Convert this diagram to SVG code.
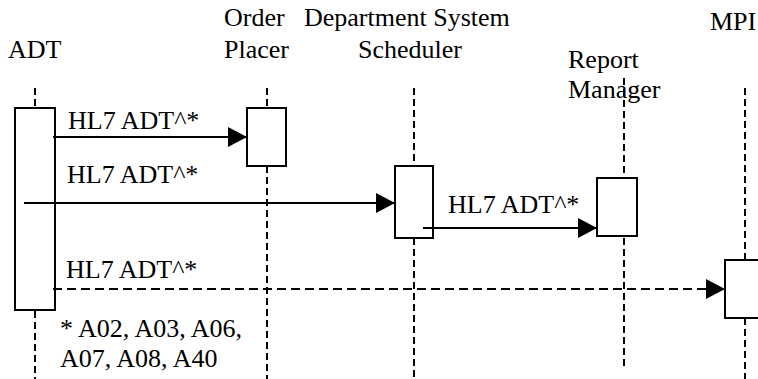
<svg xmlns="http://www.w3.org/2000/svg" width="758" height="379" viewBox="0 0 758 379" font-family="'Liberation Serif', Tinos, 'Times New Roman', serif">
<defs>
<marker id="ah" viewBox="0 0 19 20" refX="19" refY="10" markerWidth="19" markerHeight="20" markerUnits="userSpaceOnUse" orient="auto">
<path d="M0,0 L19,10 L0,20 z" fill="#000"/>
</marker>
</defs>
<rect width="758" height="379" fill="#fff"/>
<g stroke="#000" stroke-width="2">
<g id="adt">
<line x1="35" y1="88" x2="35" y2="108" stroke-dasharray="7 4"/>
<line x1="35" y1="311" x2="35" y2="379" stroke-dasharray="7 4"/>
<rect x="15" y="108" width="40" height="202" fill="#fff"/>
<text x="8" y="58" font-family="'Liberation Serif', Tinos, 'Times New Roman', serif" font-size="26" stroke="none" fill="#000">ADT</text>
</g>
<g id="order-placer">
<line x1="267" y1="88" x2="267" y2="108" stroke-dasharray="7 4"/>
<line x1="267" y1="166" x2="267" y2="379" stroke-dasharray="7 4"/>
<rect x="247" y="108" width="39" height="58" fill="#fff"/>
<text x="224" y="26" font-family="'Liberation Serif', Tinos, 'Times New Roman', serif" font-size="26" stroke="none" fill="#000">Order</text>
<text x="224" y="58" font-family="'Liberation Serif', Tinos, 'Times New Roman', serif" font-size="26" stroke="none" fill="#000">Placer</text>
</g>
<g id="dss">
<line x1="414" y1="88" x2="414" y2="166" stroke-dasharray="7 4"/>
<line x1="414" y1="238" x2="414" y2="379" stroke-dasharray="7 4"/>
<rect x="395" y="166" width="38" height="72" fill="#fff"/>
<text x="304" y="26" font-family="'Liberation Serif', Tinos, 'Times New Roman', serif" font-size="26" stroke="none" fill="#000">Department System</text>
<text x="358" y="58" font-family="'Liberation Serif', Tinos, 'Times New Roman', serif" font-size="26" stroke="none" fill="#000">Scheduler</text>
</g>
<g id="report-manager">
<line x1="624" y1="238" x2="624" y2="367" stroke-dasharray="7 4"/>
<rect x="597" y="178" width="40" height="58" fill="#fff"/>
<text x="568" y="68" font-family="'Liberation Serif', Tinos, 'Times New Roman', serif" font-size="26" stroke="none" fill="#000">Report</text>
<text x="568" y="98" font-family="'Liberation Serif', Tinos, 'Times New Roman', serif" font-size="26" stroke="none" fill="#000">Manager</text>
<line x1="624" y1="78" x2="624" y2="178" stroke-dasharray="7 4"/>
</g>
<g id="mpi">
<line x1="745" y1="88" x2="745" y2="260" stroke-dasharray="7 4"/>
<line x1="745" y1="318" x2="745" y2="379" stroke-dasharray="7 4"/>
<rect x="725" y="260" width="40" height="58" fill="#fff"/>
<text x="710" y="30" font-family="'Liberation Serif', Tinos, 'Times New Roman', serif" font-size="26" stroke="none" fill="#000">MPI</text>
</g>
<g id="connectors" fill="none" marker-end="url(#ah)">
<line x1="53" y1="137" x2="247" y2="137"/>
<line x1="24" y1="203" x2="395" y2="203"/>
<line x1="423" y1="228" x2="597" y2="228"/>
<line x1="53" y1="289" x2="725" y2="289" stroke-dasharray="9 5"/>
</g>
</g>
<g id="labels">
<text x="68" y="129" font-family="'Liberation Serif', Tinos, 'Times New Roman', serif" font-size="26" fill="#000">HL7 ADT^*</text>
<text x="67" y="183" font-family="'Liberation Serif', Tinos, 'Times New Roman', serif" font-size="26" fill="#000">HL7 ADT^*</text>
<text x="448" y="213" font-family="'Liberation Serif', Tinos, 'Times New Roman', serif" font-size="26" fill="#000">HL7 ADT^*</text>
<text x="66" y="278" font-family="'Liberation Serif', Tinos, 'Times New Roman', serif" font-size="26" fill="#000">HL7 ADT^*</text>
<text x="60" y="337" font-family="'Liberation Serif', Tinos, 'Times New Roman', serif" font-size="26" fill="#000">* A02, A03, A06,</text>
<text x="60" y="367" font-family="'Liberation Serif', Tinos, 'Times New Roman', serif" font-size="26" fill="#000">A07, A08, A40</text>
</g>
</svg>
